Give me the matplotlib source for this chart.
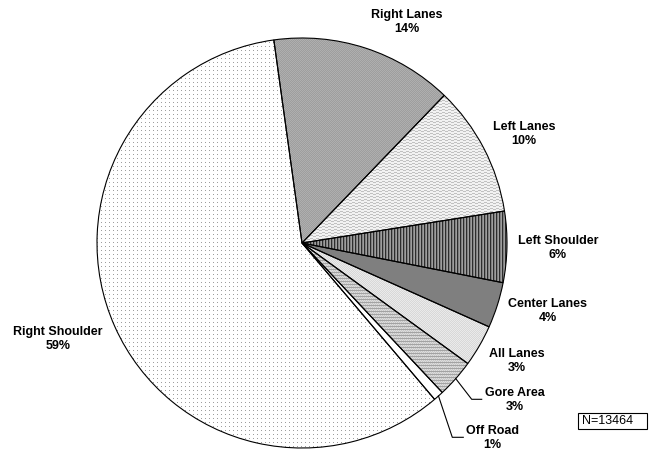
import numpy as np
import matplotlib
matplotlib.use("Agg")
import matplotlib.pyplot as plt
from matplotlib.patches import Rectangle
from matplotlib.lines import Line2D

# ---- data ----
categories = ["Right Lanes", "Left Lanes", "Left Shoulder", "Center Lanes",
              "All Lanes", "Gore Area", "Off Road", "Right Shoulder"]
shares = [14.4, 10.3, 5.6, 3.6, 3.3, 3.0, 0.8, 59.0]
n_label = "N=13464"

W, H = 653, 453
fig = plt.figure(figsize=(W / 100, H / 100), dpi=100)
fig.patch.set_facecolor("white")

# pie axes: centre (302, 243) px from top-left, radius 205 px
R = 205
cx, cy = 302, 243
ax = fig.add_axes([(cx - R) / W, (H - cy - R) / H, 2 * R / W, 2 * R / H])

wedges, _ = ax.pie(shares, startangle=97.9, counterclock=False, radius=1.0,
                   wedgeprops=dict(facecolor="none", edgecolor="black", linewidth=0.8),
                   normalize=True)
for w in wedges:
    w.set_zorder(5)

# ---- textures (fill patterns) ----
N = 2 * R
rr, cc = np.mgrid[0:N, 0:N]


def tex_right_shoulder():
    a = np.ones((N, N))
    a[(rr % 4 == 0) & (cc % 4 == 0)] = 0.62
    return a


def tex_right_lanes():
    return np.where((rr + cc) % 2 == 0, 0.62, 0.69)


def tex_left_lanes():
    a = np.full((N, N), 0.95)
    a[(rr + (cc // 3) % 2) % 3 == 0] = 0.76
    return a


def tex_left_shoulder():
    lut = np.array([0.18, 0.50, 0.62])
    return lut[cc % 3]


def tex_center_lanes():
    return np.full((N, N), 0.50)


def tex_all_lanes():
    return np.where((rr + cc) % 2 == 0, 0.85, 0.92)


def tex_gore():
    a = np.where((rr + cc) % 2 == 0, 0.78, 0.87)
    a[rr % 3 == 0] = 0.64
    return a


def tex_off_road():
    return np.ones((N, N))


textures = [tex_right_lanes, tex_left_lanes, tex_left_shoulder, tex_center_lanes,
            tex_all_lanes, tex_gore, tex_off_road, tex_right_shoulder]

for w, tf in zip(wedges, textures):
    g = tf()
    img = np.dstack([g, g, g])
    im = ax.imshow(img, extent=(-1, 1, -1, 1), interpolation="nearest",
                   zorder=1, origin="upper")
    im.set_clip_path(w)

ax.set_xlim(-1, 1)
ax.set_ylim(-1, 1)
ax.set_aspect("equal")
ax.set_axis_off()

# ---- labels ----
label_px = {
    "Right Lanes": (407, 22),
    "Left Lanes": (524, 134),
    "Left Shoulder": (558, 248),
    "Center Lanes": (548, 311),
    "All Lanes": (517, 361),
    "Gore Area": (515, 400),
    "Off Road": (492, 438),
    "Right Shoulder": (58, 339),
}
lab_font = dict(family=["Liberation Sans", "DejaVu Sans"], fontsize=9,
                fontweight="bold", ha="center", va="center", linespacing=1.2)
for name, val in zip(categories, shares):
    px, py = label_px[name]
    fig.text(px / W, 1 - py / H, f"{name}\n{val:.0f}%", **lab_font)


# leader lines (Gore Area, Off Road)
def px2data(px, py):
    return (px - cx) / R, (cy - py) / R


def wedge_mid(w, r=1.0):
    t = np.deg2rad((w.theta1 + w.theta2) / 2)
    return r * np.cos(t), r * np.sin(t)


leaders = {
    "Gore Area": [(471.7, 399.3), (481.7, 399.3)],
    "Off Road": [(452.3, 437.3), (463.3, 437.3)],
}
for name, pts in leaders.items():
    w = wedges[categories.index(name)]
    x0, y0 = wedge_mid(w, 1.0)
    xs = [x0] + [px2data(*p)[0] for p in pts]
    ys = [y0] + [px2data(*p)[1] for p in pts]
    ax.add_line(Line2D(xs, ys, color="black", linewidth=0.8, clip_on=False, zorder=6))

# ---- N box ----
bx0, by0, bx1, by1 = 578, 413, 647, 429
fig.patches.append(Rectangle((bx0 / W, 1 - by1 / H), (bx1 - bx0) / W, (by1 - by0) / H,
                             transform=fig.transFigure, facecolor="white",
                             edgecolor="black", linewidth=0.8))
fig.text(582 / W, 1 - 421 / H, n_label, family=["Liberation Sans", "DejaVu Sans"],
         fontsize=9, ha="left", va="center")

fig.savefig("out.png", dpi=100)
